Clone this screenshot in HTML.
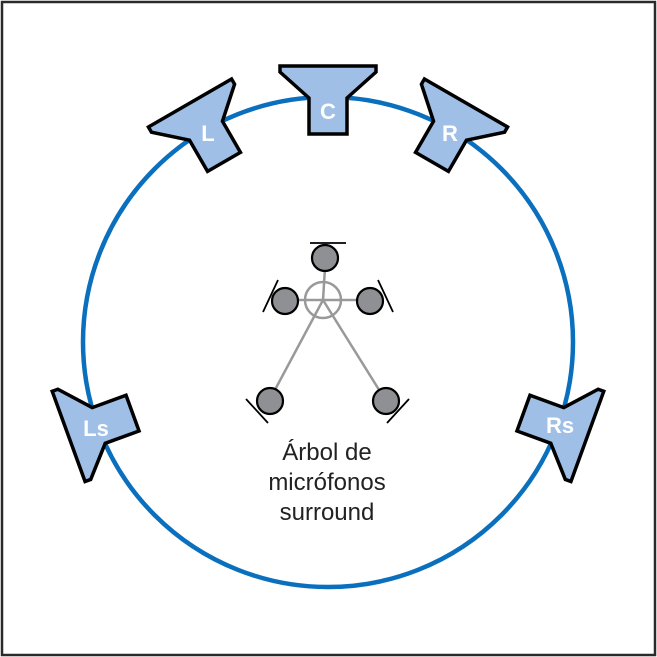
<!DOCTYPE html>
<html><head><style>body{margin:0;background:#fff}svg{display:block}</style></head><body>
<svg width="657" height="657" viewBox="0 0 657 657" xmlns="http://www.w3.org/2000/svg" font-family="Liberation Sans, sans-serif">
<rect x="2" y="2" width="653" height="653" fill="#fff" stroke="#2a2a2a" stroke-width="2.5"/>
<circle cx="328" cy="342" r="245" fill="none" stroke="#0a6fbd" stroke-width="4.5"/>
<defs>
<path id="spk" d="M-48,-276 L48,-276 L48,-270 L19,-244 L19,-208 L-19,-208 L-19,-244 L-48,-270 Z" fill="#a0bfe6" stroke="#000" stroke-width="3.5" stroke-linejoin="miter"/>
</defs>
<g transform="translate(328,342)">
<use href="#spk" transform="rotate(0)"/>
<use href="#spk" transform="rotate(-30)"/>
<use href="#spk" transform="rotate(30)"/>
<use href="#spk" transform="rotate(-110)"/>
<use href="#spk" transform="rotate(110)"/>
</g>
<g fill="#fff" font-weight="bold" font-size="22" text-anchor="middle">
<text x="328" y="119">C</text>
<text x="208" y="141">L</text>
<text x="450" y="141">R</text>
<text x="96" y="436">Ls</text>
<text x="560" y="433">Rs</text>
</g>
<g stroke="#999" stroke-width="2.5" fill="none">
<line x1="323" y1="300" x2="325" y2="268"/>
<line x1="283" y1="300" x2="370" y2="300"/>
<line x1="323" y1="300" x2="269" y2="401"/>
<line x1="323" y1="300" x2="386" y2="401"/>
<circle cx="323" cy="300" r="18"/>
</g>
<g stroke="#000" stroke-width="1.8">
<line x1="310" y1="243" x2="346" y2="243"/>
<line x1="263" y1="312" x2="278" y2="280"/>
<line x1="393" y1="312" x2="378" y2="280"/>
<line x1="246" y1="399" x2="268" y2="423"/>
<line x1="409" y1="399" x2="387" y2="423"/>
</g>
<g fill="#8f9094" stroke="#000" stroke-width="2.2">
<circle cx="325" cy="258" r="13"/>
<circle cx="285" cy="301" r="13"/>
<circle cx="370" cy="301" r="13"/>
<circle cx="270" cy="401" r="13"/>
<circle cx="386" cy="401" r="13"/>
</g>
<g fill="#222" font-size="24" text-anchor="middle">
<text x="327" y="460">Árbol de</text>
<text x="327" y="490">micrófonos</text>
<text x="327" y="520">surround</text>
</g>
</svg>
</body></html>
